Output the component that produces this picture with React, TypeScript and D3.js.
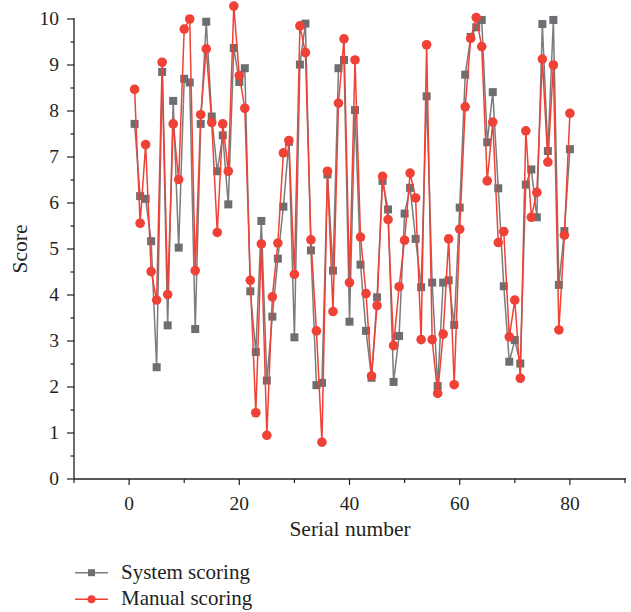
import React from "react";
import * as d3 from "d3";

const serial: number[] = d3.range(1, 81);
const systemScores: number[] = [
  7.72, 6.15, 6.09, 5.17, 2.43, 8.85, 3.34, 8.22, 5.03, 8.70,
  8.62, 3.26, 7.72, 9.94, 7.88, 6.69, 7.47, 5.97, 9.37, 8.63,
  8.93, 4.08, 2.76, 5.61, 2.14, 3.53, 4.79, 5.92, 7.33, 3.08,
  9.01, 9.90, 4.97, 2.04, 2.09, 6.62, 4.53, 8.93, 9.11, 3.42,
  8.02, 4.66, 3.22, 2.20, 3.95, 6.48, 5.86, 2.11, 3.11, 5.77,
  6.33, 5.22, 4.17, 8.32, 4.27, 2.02, 4.27, 4.32, 3.35, 5.90,
  8.79, 9.61, 9.82, 9.98, 7.32, 8.41, 6.32, 4.19, 2.55, 3.02,
  2.51, 6.40, 6.73, 5.69, 9.89, 7.13, 9.98, 4.22, 5.39, 7.17,
];
const manualScores: number[] = [
  8.47, 5.56, 7.27, 4.51, 3.89, 9.06, 4.01, 7.72, 6.51, 9.78,
  10.0, 4.53, 7.92, 9.35, 7.75, 5.36, 7.72, 6.69, 10.28, 8.77,
  8.06, 4.32, 1.44, 5.11, 0.95, 3.96, 5.13, 7.09, 7.36, 4.45,
  9.85, 9.27, 5.20, 3.22, 0.80, 6.69, 3.64, 8.17, 9.57, 4.27,
  9.11, 5.26, 4.03, 2.24, 3.77, 6.58, 5.64, 2.90, 4.18, 5.19,
  6.65, 6.11, 3.03, 9.44, 3.03, 1.86, 3.15, 5.22, 2.05, 5.43,
  8.09, 9.58, 10.03, 9.40, 6.48, 7.76, 5.14, 5.38, 3.09, 3.89,
  2.19, 7.57, 5.69, 6.23, 9.13, 6.89, 9.00, 3.24, 5.30, 7.95,
];
const xMajorTicks: number[] = [0, 20, 40, 60, 80];
const xMinorTicks: number[] = [-10, 10, 30, 50, 70, 90];
const yMajorTicks: number[] = d3.range(0, 11);
const yMinorTicks: number[] = d3.range(0.5, 10, 1);
const seriesNames: string[] = ["System scoring", "Manual scoring"];

const W = 631;
const H = 612;
const FONT = "'Liberation Serif', 'DejaVu Serif', serif";
const AXIS = "#231f20";
const GRAY_LINE = "#7b7c7e";
const GRAY_MARK = "#6d6e71";
const RED = "#ef4136";

export default function App() {
  const x = d3.scaleLinear().domain([-10, 90]).range([74, 625]);
  const y = d3.scaleLinear().domain([0, 10]).range([479, 19]);

  const line = d3
    .line<number>()
    .x((_, i) => x(serial[i]))
    .y((d) => y(d));

  const sq = 8;
  const lx0 = 75;
  const lx1 = 108;
  const legendY = [572.7, 599.3];

  return (
    <svg
      width={W}
      height={H}
      style={{ position: "absolute", left: 0, top: 0, background: "#fff" }}
      fontFamily={FONT}
    >
      {/* axes */}
      <line x1={x(-10)} x2={x(90) + 1} y1={y(0)} y2={y(0)} stroke={AXIS} strokeWidth={1.3} />
      <line x1={x(-10)} x2={x(-10)} y1={y(0)} y2={y(10) - 1} stroke={AXIS} strokeWidth={1.3} />
      {xMajorTicks.map((t) => (
        <g key={"xm" + t}>
          <line x1={x(t)} x2={x(t)} y1={y(0)} y2={y(0) + 6} stroke={AXIS} strokeWidth={1.2} />
          <text x={x(t)} y={510} textAnchor="middle" fontSize={19.5} fill={AXIS}>
            {t}
          </text>
        </g>
      ))}
      {xMinorTicks.map((t) => (
        <line key={"xn" + t} x1={x(t)} x2={x(t)} y1={y(0)} y2={y(0) + 4} stroke={AXIS} strokeWidth={1.2} />
      ))}
      {yMajorTicks.map((t) => (
        <g key={"ym" + t}>
          <line x1={x(-10) - 7} x2={x(-10)} y1={y(t)} y2={y(t)} stroke={AXIS} strokeWidth={1.2} />
          <text x={59} y={y(t) + 6} textAnchor="end" fontSize={19.5} fill={AXIS}>
            {t}
          </text>
        </g>
      ))}
      {yMinorTicks.map((t) => (
        <line key={"yn" + t} x1={x(-10) - 3.5} x2={x(-10)} y1={y(t)} y2={y(t)} stroke={AXIS} strokeWidth={1.2} />
      ))}
      <text x={350} y={536} textAnchor="middle" fontSize={21.5} fill={AXIS}>
        Serial number
      </text>
      <text
        transform={`translate(27,${y(5)}) rotate(-90)`}
        textAnchor="middle"
        fontSize={21.5}
        fill={AXIS}
      >
        Score
      </text>

      {/* system series */}
      <path d={line(systemScores) || ""} fill="none" stroke={GRAY_LINE} strokeWidth={1.5} />
      {systemScores.map((v, i) => (
        <rect
          key={"s" + i}
          x={x(serial[i]) - sq / 2}
          y={y(v) - sq / 2}
          width={sq}
          height={sq}
          fill={GRAY_MARK}
        />
      ))}
      {/* manual series */}
      <path d={line(manualScores) || ""} fill="none" stroke={RED} strokeWidth={1.5} />
      {manualScores.map((v, i) => (
        <circle key={"m" + i} cx={x(serial[i])} cy={y(v)} r={4.8} fill={RED} />
      ))}

      {/* legend */}
      <line x1={lx0} x2={lx1} y1={legendY[0]} y2={legendY[0]} stroke={GRAY_LINE} strokeWidth={1.5} />
      <rect x={(lx0 + lx1) / 2 - 3.5} y={legendY[0] - 3.5} width={7} height={7} fill={GRAY_MARK} />
      <text x={121} y={legendY[0] + 6} fontSize={21} fill={AXIS}>
        {seriesNames[0]}
      </text>
      <line x1={lx0} x2={lx1} y1={legendY[1]} y2={legendY[1]} stroke={RED} strokeWidth={1.5} />
      <circle cx={(lx0 + lx1) / 2} cy={legendY[1]} r={4} fill={RED} />
      <text x={121} y={legendY[1] + 6} fontSize={21} fill={AXIS}>
        {seriesNames[1]}
      </text>
    </svg>
  );
}
